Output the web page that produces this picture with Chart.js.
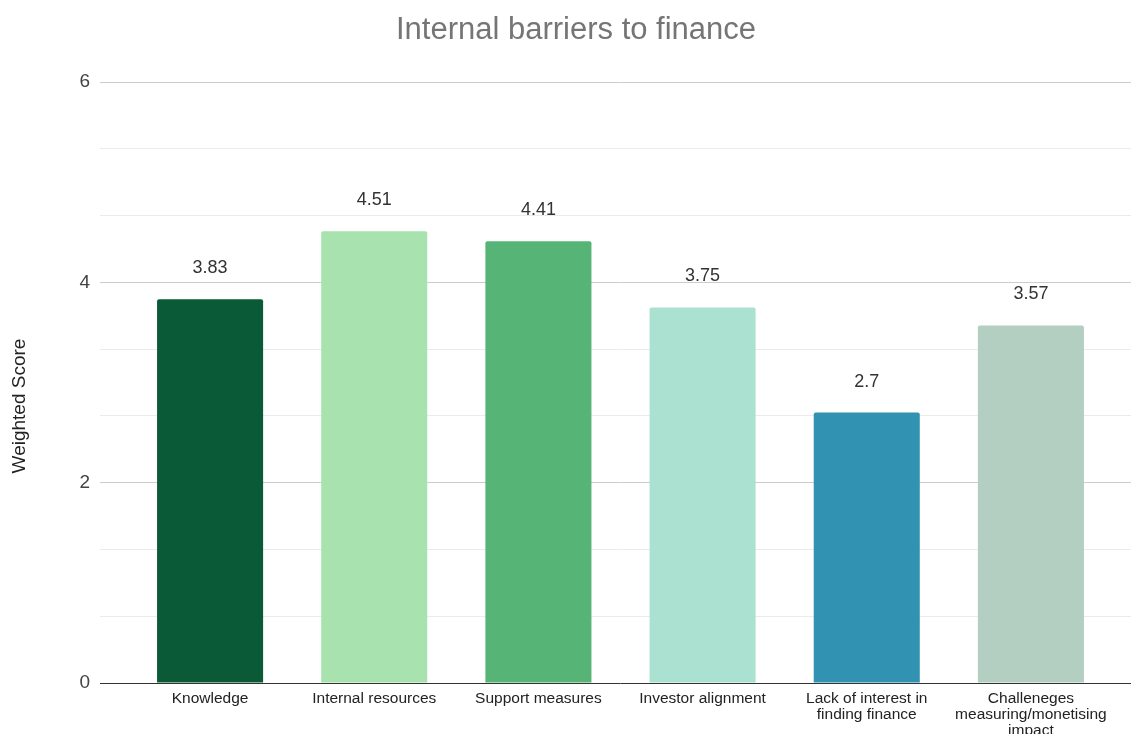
<!DOCTYPE html>
<html>
<head>
<meta charset="utf-8">
<script src="https://cdn.jsdelivr.net/npm/chart.js@4/dist/chart.umd.min.js"></script>
<style>
  html, body { margin: 0; padding: 0; background: #fff; }
  #wrap { width: 1131px; height: 734px; }
</style>
</head>
<body>
<div id="wrap"><canvas id="chart"></canvas></div>
<script>
const categories = [
    'Knowledge',
    'Internal resources',
    'Support measures',
    'Investor alignment',
    ['Lack of interest in', 'finding finance'],
    ['Challeneges', 'measuring/monetising', 'impact'],
];
const scores = [3.83, 4.51, 4.41, 3.75, 2.7, 3.57];
const barColors = ['#0b5a37', '#a8e2ae', '#56b576', '#abe1d1', '#3192b1', '#b3cfc2'];
const chartTitle = 'Internal barriers to finance';
const yTitle = 'Weighted Score';
const yMax = 6;
const yStep = 2 / 3;

const FONT = '"Liberation Sans", Arial, sans-serif';

const isMajor = v => Math.abs(v - Math.round(v)) < 1e-6 && Math.round(v) % 2 === 0;
const gridColor = v => {
    if (Math.abs(v) < 1e-6) return '#333333';
    return isMajor(v) ? '#cccccc' : '#ebebeb';
};

// carry y grid lines on to the right edge of the canvas
const extendGrid = {
    id: 'extendGrid',
    beforeDatasetsDraw(chart) {
        const { ctx, chartArea, scales } = chart;
        const y = scales.y;
        ctx.save();
        ctx.lineWidth = 1;
        y.ticks.forEach((t, i) => {
            const py = Math.round(y.getPixelForTick(i) - 0.5) + 0.5;
            ctx.strokeStyle = gridColor(t.value);
            ctx.beginPath();
            ctx.moveTo(chartArea.right, py);
            ctx.lineTo(chart.width, py);
            ctx.stroke();
        });
        ctx.restore();
    }
};

// value labels above each bar, chart title and axis title
const labelsPlugin = {
    id: 'labelsPlugin',
    afterDatasetsDraw(chart) {
        const { ctx } = chart;
        const meta = chart.getDatasetMeta(0);
        ctx.save();
        ctx.textAlign = 'center';
        ctx.textBaseline = 'middle';

        ctx.font = '18px ' + FONT;
        ctx.fillStyle = '#333333';
        meta.data.forEach((bar, i) => {
            ctx.fillText(String(scores[i]), bar.x, bar.y - 31);
        });

        ctx.font = '31px ' + FONT;
        ctx.fillStyle = '#757575';
        ctx.fillText(chartTitle, 576, 30);

        ctx.translate(20, 406);
        ctx.rotate(-Math.PI / 2);
        ctx.font = '19px ' + FONT;
        ctx.fillStyle = '#222222';
        ctx.fillText(yTitle, 0, 0);
        ctx.restore();
    }
};

new Chart(document.getElementById('chart'), {
    type: 'bar',
    data: {
        labels: categories,
        datasets: [{
            data: scores,
            backgroundColor: barColors,
            borderWidth: 0,
            borderRadius: { topLeft: 2, topRight: 2, bottomLeft: 0, bottomRight: 0 },
            borderSkipped: 'start',
            barPercentage: 0.646,
            categoryPercentage: 1,
        }]
    },
    options: {
        responsive: true,
        maintainAspectRatio: false,
        animation: false,
        layout: { padding: { top: 82, right: 18, bottom: 0, left: 0 } },
        plugins: {
            legend: { display: false },
            tooltip: { enabled: false },
            title: { display: false },
        },
        scales: {
            x: {
                grid: { display: false, drawTicks: false },
                border: { display: false },
                ticks: {
                    color: '#222222',
                    font: { family: FONT, size: 15.5, lineHeight: '16px' },
                    padding: 8,
                    maxRotation: 0,
                    autoSkip: false,
                },
                afterFit(scale) { scale.height = 51; },
            },
            y: {
                min: 0,
                max: yMax,
                ticks: {
                    stepSize: yStep,
                    color: '#444444',
                    font: { family: FONT, size: 19 },
                    padding: 10,
                    callback: v => isMajor(v) ? String(Math.round(v)) : '',
                },
                grid: {
                    color: ctx => gridColor(ctx.tick.value),
                    tickColor: ctx => gridColor(ctx.tick.value),
                    tickLength: 28,
                    lineWidth: 1,
                },
                border: { display: false },
                afterFit(scale) { scale.width = 128; },
            },
        },
    },
    plugins: [extendGrid, labelsPlugin],
});
</script>
</body>
</html>
